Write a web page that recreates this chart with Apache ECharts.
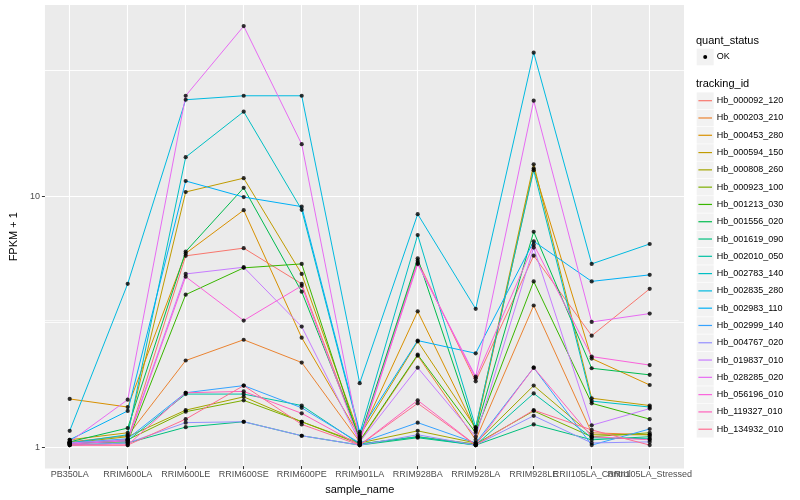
<!DOCTYPE html>
<html><head><meta charset="utf-8">
<script src="https://cdn.jsdelivr.net/npm/echarts@6/dist/echarts.min.js"></script>
<style>html,body{margin:0;padding:0;background:#fff}#c{width:800px;height:500px}</style>
</head><body><div id="c"></div>
<script>
const categories = ['PB350LA','RRIM600LA','RRIM600LE','RRIM600SE','RRIM600PE','RRIM901LA','RRIM928BA','RRIM928LA','RRIM928LE','RRII105LA_Control','RRII105LA_Stressed'];
const trackingIds = ['Hb_000092_120','Hb_000203_210','Hb_000453_280','Hb_000594_150','Hb_000808_260','Hb_000923_100','Hb_001213_030','Hb_001556_020','Hb_001619_090','Hb_002010_050','Hb_002783_140','Hb_002835_280','Hb_002983_110','Hb_002999_140','Hb_004767_020','Hb_019837_010','Hb_028285_020','Hb_056196_010','Hb_119327_010','Hb_134932_010'];
const colors = ['#F8766D','#EA8331','#D89000','#C09B00','#A3A500','#7CAE00','#39B600','#00BB4E','#00BF7D','#00C1A3','#00BFC4','#00BAE0','#00B0F6','#35A2FF','#9590FF','#C77CFF','#E76BF3','#FA62DB','#FF62BC','#FF6C91'];

// FPKM + 1 per category
const hb_000092_120 = [1.02, 1.05, 5.72, 6.14, 4.42, 1.06, 5.47, 1.80, 5.73, 2.74, 4.22];
const hb_000203_210 = [1.03, 1.09, 2.18, 2.64, 2.14, 1.03, 2.28, 1.05, 3.62, 1.12, 1.10];
const hb_000453_280 = [1.53, 1.42, 5.85, 8.71, 2.69, 1.08, 3.43, 1.15, 12.8, 2.22, 1.74];
const hb_000594_150 = [1.05, 1.12, 10.3, 11.7, 4.84, 1.09, 2.60, 1.17, 13.3, 1.54, 1.44];
const hb_000808_260 = [1.02, 1.08, 1.38, 1.56, 1.24, 1.02, 1.14, 1.02, 1.73, 1.10, 1.10];
const hb_000923_100 = [1.01, 1.05, 1.36, 1.51, 1.24, 1.01, 1.08, 1.01, 1.37, 1.08, 1.12];
const hb_001213_030 = [1.02, 1.03, 4.00, 5.12, 5.31, 1.04, 2.30, 1.12, 4.52, 1.47, 1.27];
const hb_001556_020 = [1.03, 1.17, 5.95, 10.7, 4.11, 1.07, 5.59, 1.14, 7.14, 2.03, 1.91];
const hb_001619_090 = [1.00, 1.02, 1.18, 1.24, 1.09, 1.00, 1.07, 1.00, 1.21, 1.05, 1.08];
const hb_002010_050 = [1.01, 1.04, 1.60, 1.60, 1.44, 1.01, 1.08, 1.00, 1.61, 1.07, 1.06];
const hb_002783_140 = [1.02, 1.10, 14.2, 21.6, 8.74, 1.11, 6.93, 1.18, 12.6, 1.50, 1.42];
const hb_002835_280 = [1.14, 4.42, 24.1, 25.0, 25.0, 1.77, 8.40, 3.51, 37.2, 5.31, 6.38];
const hb_002983_110 = [1.05, 1.37, 11.4, 9.83, 9.00, 1.13, 2.62, 2.33, 6.54, 4.52, 4.80];
const hb_002999_140 = [1.02, 1.06, 1.62, 1.73, 1.41, 1.02, 1.23, 1.02, 2.04, 1.00, 1.16];
const hb_004767_020 = [1.00, 1.02, 1.23, 1.24, 1.09, 1.00, 1.10, 1.00, 1.31, 1.02, 1.03];
const hb_019837_010 = [1.02, 1.05, 4.84, 5.15, 2.98, 1.03, 2.04, 1.08, 6.17, 1.20, 1.40];
const hb_028285_020 = [1.03, 1.52, 25.0, 47.5, 16.0, 1.05, 5.30, 1.88, 23.9, 3.11, 3.36];
const hb_056196_010 = [1.01, 1.04, 4.72, 3.15, 4.34, 1.03, 5.36, 1.85, 6.34, 2.26, 2.09];
const hb_119327_010 = [1.00, 1.00, 1.62, 1.64, 1.34, 1.00, 1.51, 1.00, 2.04, 1.08, 1.05];
const hb_134932_010 = [1.00, 1.00, 1.27, 1.73, 1.21, 1.00, 1.47, 1.00, 1.38, 1.15, 1.00];

const seriesValues = [hb_000092_120, hb_000203_210, hb_000453_280, hb_000594_150, hb_000808_260, hb_000923_100, hb_001213_030, hb_001556_020, hb_001619_090, hb_002010_050, hb_002783_140, hb_002835_280, hb_002983_110, hb_002999_140, hb_004767_020, hb_019837_010, hb_028285_020, hb_056196_010, hb_119327_010, hb_134932_010];
const yTicks = [1, 10];
const yMinorTicks = [3.1623, 31.623];
const quantStatus = ['OK'];

const FONT = '"Liberation Sans", Arial, Helvetica, sans-serif';
const Y_MIN = 0.824, Y_MAX = 57.7;

const chart = echarts.init(document.getElementById('c'));

const series = [];
// grid lines: vertical at category centres, horizontal minor lines at decade midpoints
series.push({
  type: 'line', xAxisIndex: 1, yAxisIndex: 1, data: [], silent: true, z: 1, animation: false,
  markLine: { z: 1, silent: true, animation: false, symbol: ['none', 'none'], label: { show: false },
    lineStyle: { color: '#ffffff', width: 1.1, type: 'solid' },
    data: categories.map(c => ({ xAxis: c })) }
});
series.push({
  type: 'line', xAxisIndex: 1, yAxisIndex: 1, data: [], silent: true, z: 1, animation: false,
  markLine: { z: 1, silent: true, animation: false, symbol: ['none', 'none'], label: { show: false },
    lineStyle: { color: '#ffffff', width: 0.6, type: 'solid' },
    data: yMinorTicks.map(v => ({ yAxis: v })) }
});
seriesValues.forEach((vals, i) => {
  series.push({
    type: 'line', name: trackingIds[i], xAxisIndex: 1, yAxisIndex: 1,
    data: vals.map((v, j) => [categories[j], v]),
    showSymbol: false, symbol: 'none', silent: true, animation: false, z: 3,
    lineStyle: { color: colors[i], width: 1 }
  });
});
const points = [];
seriesValues.forEach(vals => vals.forEach((v, j) => points.push([categories[j], v])));
series.push({
  type: 'scatter', xAxisIndex: 1, yAxisIndex: 1, data: points, symbol: 'circle', symbolSize: 4.2,
  itemStyle: { color: '#000000' }, silent: true, animation: false, z: 5
});

// legend drawn as graphics
const g = [];
const LX = 696.7, TXT = 716.7;
g.push({ type: 'text', x: 696, y: 40.7, style: { text: 'quant_status', fill: '#000', fontSize: 11, fontFamily: FONT, verticalAlign: 'middle' } });
quantStatus.forEach((q, k) => {
  const cy = 57 + k * 17.3;
  g.push({ type: 'rect', shape: { x: LX, y: cy - 8.3, width: 17, height: 16.6 }, style: { fill: '#F2F2F2' } });
  g.push({ type: 'circle', shape: { cx: LX + 8.5, cy: cy, r: 2 }, style: { fill: '#000' } });
  g.push({ type: 'text', x: TXT, y: cy, style: { text: q, fill: '#000', fontSize: 9, fontFamily: FONT, verticalAlign: 'middle' } });
});
g.push({ type: 'text', x: 696, y: 84, style: { text: 'tracking_id', fill: '#000', fontSize: 11, fontFamily: FONT, verticalAlign: 'middle' } });
trackingIds.forEach((id, i) => {
  const cy = 100.7 + i * 17.29;
  g.push({ type: 'rect', shape: { x: LX, y: cy - 8.3, width: 17, height: 16.6 }, style: { fill: '#F2F2F2' } });
  g.push({ type: 'line', shape: { x1: LX + 1.7, y1: cy, x2: LX + 15.3, y2: cy }, style: { stroke: colors[i], lineWidth: 1.2 } });
  g.push({ type: 'text', x: TXT, y: cy, style: { text: id, fill: '#000', fontSize: 9, fontFamily: FONT, verticalAlign: 'middle' } });
});

chart.setOption({
  animation: false,
  textStyle: { fontFamily: FONT },
  grid: [
    { left: 35, top: 5, width: 649, height: 463.5, show: true, backgroundColor: '#EBEBEB', borderWidth: 0, containLabel: false },
    { left: 40.7, top: 5, width: 638, height: 463.5, show: false, containLabel: false }
  ],
  xAxis: [
    { gridIndex: 0, type: 'value', min: 0, max: 1, show: false },
    { gridIndex: 1, type: 'category', data: categories, boundaryGap: true,
      axisLine: { show: false },
      axisTick: { show: true, alignWithLabel: true, interval: 0, length: 3, lineStyle: { color: '#333333', width: 1 } },
      axisLabel: { interval: 0, hideOverlap: false, color: '#4D4D4D', fontSize: 9, margin: 4, fontFamily: FONT },
      splitLine: { show: false },
      name: 'sample_name', nameLocation: 'middle', nameGap: 15,
      nameTextStyle: { color: '#000', fontSize: 11, fontFamily: FONT } }
  ],
  yAxis: [
    { gridIndex: 0, type: 'log', logBase: 10, min: Y_MIN, max: Y_MAX,
      axisLine: { show: false },
      axisTick: { show: true, length: 3, customValues: yTicks, lineStyle: { color: '#333333', width: 1 } },
      axisLabel: { customValues: yTicks, color: '#4D4D4D', fontSize: 9, margin: 5, fontFamily: FONT },
      splitLine: { show: true, lineStyle: { color: '#ffffff', width: 1.1 } },
      minorTick: { show: false }, minorSplitLine: { show: false },
      name: 'FPKM + 1', nameLocation: 'middle', nameGap: 18, nameRotate: 90,
      nameTextStyle: { color: '#000', fontSize: 11, fontFamily: FONT } },
    { gridIndex: 1, type: 'log', logBase: 10, min: Y_MIN, max: Y_MAX, show: false,
      splitLine: { show: false } },
    { gridIndex: 0, type: 'log', logBase: 10, min: Y_MIN, max: Y_MAX, position: 'right',
      axisLine: { show: false },
      axisTick: { show: false, customValues: yMinorTicks },
      axisLabel: { show: false, customValues: yMinorTicks },
      splitLine: { show: true, lineStyle: { color: '#ffffff', width: 0.8 } } }
  ],
  graphic: { elements: g },
  series: series
});
</script></body></html>
